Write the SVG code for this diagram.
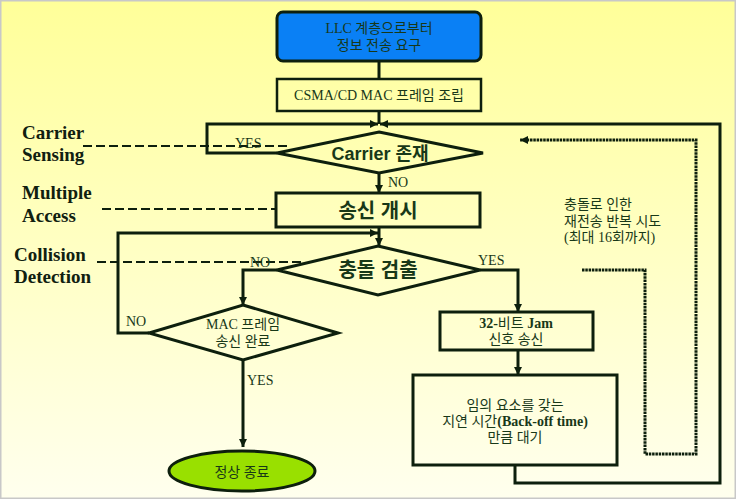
<svg xmlns="http://www.w3.org/2000/svg" width="736" height="499" viewBox="0 0 736 499">
<defs>
<linearGradient id="bg" x1="0" y1="0" x2="0" y2="1">
<stop offset="0" stop-color="#ffff99"/>
<stop offset="1" stop-color="#ffffee"/>
</linearGradient>
<marker id="ah" viewBox="0 0 10 10" refX="10" refY="5" markerWidth="8" markerHeight="8" markerUnits="userSpaceOnUse" orient="auto">
<path d="M0,0 L10,5 L0,10 z" fill="#0d1f0d"/>
</marker>
<style>
.ln{fill:none;stroke:#0d1f0d;stroke-width:3}
.dash{fill:none;stroke:#0d1f0d;stroke-width:2;stroke-dasharray:9 4}
.dot{fill:none;stroke:#0d1f0d;stroke-width:3;stroke-dasharray:2.5 0.8}
.box{fill:none;stroke:#0d1f0d;stroke-width:3}
.t{font-family:"Liberation Serif","Noto Sans CJK KR",serif;font-size:14px;fill:#183818;text-anchor:middle}
.tl{font-family:"Liberation Serif","Noto Sans CJK KR",serif;font-size:14px;fill:#183818}
.ts{font-family:"Liberation Sans","Noto Sans CJK KR",sans-serif;fill:#183818;text-anchor:middle;font-weight:bold}
.lab{font-family:"Liberation Serif",serif;font-size:19px;font-weight:bold;fill:#102010}
.yn{font-family:"Liberation Serif",serif;font-size:14px;fill:#183818}
</style>
</defs>
<rect x="0" y="0" width="736" height="499" fill="url(#bg)"/>
<rect x="0.75" y="0.75" width="734.5" height="497.5" fill="none" stroke="#c8c8c8" stroke-width="1.5"/>

<g id="connectors">
<line class="ln" x1="379" y1="61" x2="379" y2="79"/>
<polyline class="ln" points="379,111 379,124"/>
<polyline class="ln" points="277,153 207,153 207,124 378,124" marker-end="url(#ah)"/>
<polyline class="ln" points="515,465 515,483 720,483 720,124 380,124" marker-end="url(#ah)"/>
<line class="ln" x1="379" y1="173" x2="379" y2="193" marker-end="url(#ah)"/>
<line class="ln" x1="379" y1="227" x2="379" y2="246" marker-end="url(#ah)"/>
<polyline class="ln" points="149,333 118,333 118,233 378,233" marker-end="url(#ah)"/>
<polyline class="ln" points="277,270 243,270 243,305" marker-end="url(#ah)"/>
<polyline class="ln" points="480,270 518,270 518,312" marker-end="url(#ah)"/>
<line class="ln" x1="518" y1="350" x2="518" y2="375" marker-end="url(#ah)"/>
<line class="ln" x1="243" y1="360" x2="243" y2="447" marker-end="url(#ah)"/>
<polyline class="dot" points="582,270 645,270 645,454 696,454 696,140 520,140" marker-end="url(#ah)"/>
<line class="dash" x1="83" y1="146" x2="290" y2="146"/>
<line class="dash" x1="102" y1="209" x2="276" y2="209"/>
<line class="dash" x1="97" y1="262" x2="303" y2="262"/>
<text class="yn" x="235" y="148">YES</text>
<text class="yn" x="388" y="187">NO</text>
<text class="yn" x="250" y="267">NO</text>
<text class="yn" x="478" y="265">YES</text>
<text class="yn" x="126" y="326">NO</text>
<text class="yn" x="247" y="385">YES</text>
</g>

<g id="llc">
<rect x="277" y="12" width="204" height="49" rx="6" fill="#0a80f5" stroke="#0d1f0d" stroke-width="3"/>
<text class="t" x="379" y="33">LLC 계층으로부터</text>
<text class="t" x="379" y="50">정보 전송 요구</text>
</g>

<g id="csma">
<rect x="277" y="79" width="204" height="32" fill="none" stroke="#0d1f0d" stroke-width="2.5"/>
<text class="t" x="379" y="100">CSMA/CD  MAC 프레임 조립</text>
</g>

<g id="carrier">
<polygon class="box" points="379,132 483,153 379,173 277,153"/>
<text class="ts" x="380" y="160" font-size="18">Carrier 존재</text>
</g>

<g id="send">
<rect class="box" x="276" y="193" width="204" height="34"/>
<text class="ts" x="378" y="218" font-size="20">송신 개시</text>
</g>

<g id="collision">
<polygon class="box" points="378,246 480,270 378,295 277,270"/>
<text class="ts" x="378" y="277" font-size="20">충돌 검출</text>
</g>

<g id="macdone">
<polygon class="box" points="243,305 338,333 243,360 149,333"/>
<text class="t" x="243" y="329">MAC 프레임</text>
<text class="t" x="243" y="346">송신 완료</text>
</g>

<g id="end">
<ellipse cx="242" cy="471" rx="73" ry="20" fill="#99e000" stroke="#0d1f0d" stroke-width="3"/>
<text class="t" x="242" y="477">정상 종료</text>
</g>

<g id="jam">
<rect class="box" x="440" y="312" width="153" height="38"/>
<text class="t" x="516" y="328"><tspan font-weight="bold">32-</tspan>비트 <tspan font-weight="bold">Jam</tspan></text>
<text class="t" x="516" y="344">신호 송신</text>
</g>

<g id="backoff">
<rect class="box" x="413" y="375" width="204" height="90"/>
<text class="t" x="515" y="410">임의 요소를 갖는</text>
<text class="t" x="515" y="426">지연 시간<tspan font-weight="bold">(Back-off time)</tspan></text>
<text class="t" x="515" y="442">만큼 대기</text>
</g>

<g id="retry">
<text class="tl" x="564" y="209">충돌로 인한</text>
<text class="tl" x="564" y="226">재전송 반복 시도</text>
<text class="tl" x="564" y="242">(최대 16회까지)</text>
</g>

<g id="labels">
<text class="lab" x="22" y="139">Carrier</text>
<text class="lab" x="22" y="161">Sensing</text>
<text class="lab" x="22" y="199">Multiple</text>
<text class="lab" x="22" y="222">Access</text>
<text class="lab" x="14" y="261">Collision</text>
<text class="lab" x="14" y="283">Detection</text>
</g>
</svg>
